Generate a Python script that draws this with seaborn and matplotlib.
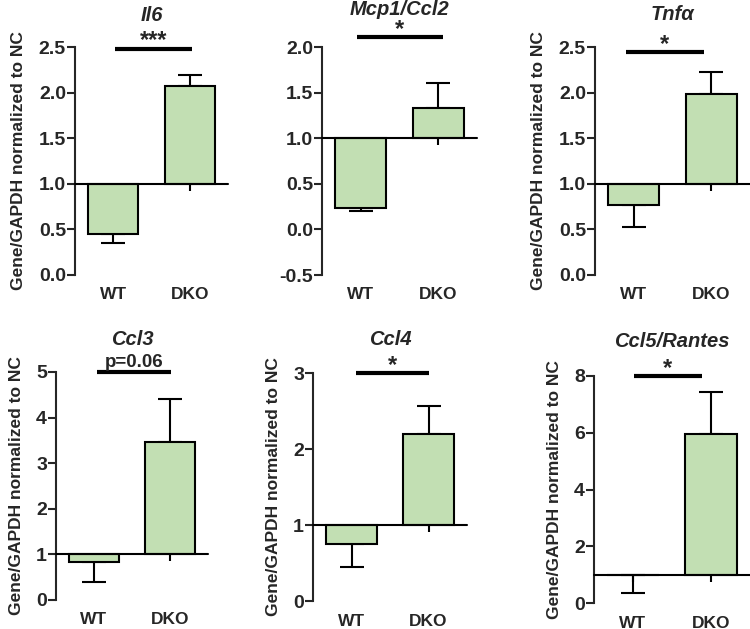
import numpy as np
import pandas as pd
import matplotlib
matplotlib.use("Agg")
import matplotlib.pyplot as plt
import seaborn as sns

# ---------------- DATA ----------------
genes = ["Il6", "Mcp1/Ccl2", "Tnfα", "Ccl3", "Ccl4", "Ccl5/Rantes"]
groups = ["WT", "DKO"]
wt_mean = [0.45, 0.24, 0.77, 0.84, 0.75, 1.0]
wt_err = [0.10, 0.04, 0.24, 0.44, 0.30, 0.65]
dko_mean = [2.07, 1.33, 1.98, 3.46, 2.20, 5.95]
dko_err = [0.12, 0.28, 0.25, 0.95, 0.36, 1.48]
sig_labels = ["***", "*", "*", "p=0.06", "*", "*"]
y_limits = [(0, 2.5), (-0.5, 2.0), (0, 2.5), (0, 5), (0, 3), (0, 8)]
y_steps = [0.5, 0.5, 0.5, 1, 1, 2]
ylabel = "Gene/GAPDH normalized to NC"
# --------------------------------------

# ---------------- LAYOUT ----------------
W, H = 750, 629
# axes boxes in pixels: x0, x1, y_top, y_bottom
boxes = [(75, 228, 47, 275), (322, 477, 47, 275), (595, 750, 47, 275),
         (56, 208, 372, 600), (313, 467, 373, 601), (594, 750, 376, 603)]
sig_span = [(0.02, 1.03), (-0.05, 1.06), (-0.1, 0.9), (0.04, 1.01), (0.06, 1.0), (0.01, 0.88)]
sig_y = [2.48, 2.11, 2.44, 5.0, 3.0, 8.0]
show_ylabel = [True, False, True, True, True, True]
title_pad = [19, 23, 19.5, 19.5, 20, 21]
BAR_COLOR = "#C2DFB3"
# ----------------------------------------

sns.set_style("ticks")
plt.rcParams["font.family"] = ["Liberation Sans", "DejaVu Sans"]
plt.rcParams["font.weight"] = "bold"

fig = plt.figure(figsize=(W / 100, H / 100), dpi=100)

for i, gene in enumerate(genes):
    x0, x1, yt, yb = boxes[i]
    ax = fig.add_axes([x0 / W, 1 - yb / H, (x1 - x0) / W, (yb - yt) / H])

    df = pd.DataFrame({"group": groups,
                       "delta": [wt_mean[i] - 1, dko_mean[i] - 1]})
    sns.barplot(data=df, x="group", y="delta", bottom=1, color=BAR_COLOR,
                saturation=1, edgecolor="black", linewidth=1.5, width=0.66,
                errorbar=None, ax=ax, zorder=2)

    # one-sided error bars, pointing away from the baseline
    ax.errorbar([0], [wt_mean[i]], yerr=[[wt_err[i]], [0]], fmt="none",
                ecolor="black", elinewidth=1.5, capsize=8.5, capthick=1.5, zorder=1)
    ax.errorbar([1], [dko_mean[i]], yerr=[[0], [dko_err[i]]], fmt="none",
                ecolor="black", elinewidth=1.5, capsize=8.5, capthick=1.5, zorder=1)

    # baseline at 1 with downward ticks
    ax.axhline(1, color="black", lw=1.5, zorder=3, clip_on=False)
    ax.plot([0, 1], [1, 1], ls="none", marker=3, ms=5, mew=1.5,
            color="black", zorder=0.5, clip_on=False)

    lo, hi = y_limits[i]
    ax.set_ylim(lo, hi)
    ax.set_xlim(-0.5, 1.5)
    ax.set_yticks(np.arange(lo, hi + y_steps[i] / 2, y_steps[i]))
    if y_steps[i] < 1:
        ax.set_yticklabels([f"{t:.1f}" for t in ax.get_yticks()])
    else:
        ax.set_yticklabels([f"{t:.0f}" for t in ax.get_yticks()])

    sns.despine(ax=ax, bottom=True)
    ax.spines["left"].set_linewidth(1.5)
    ax.tick_params(axis="y", length=5.5, width=1.5, pad=1, labelsize=14)
    ax.tick_params(axis="x", length=0, pad=9, labelsize=12.5)
    for lab in ax.get_xticklabels() + ax.get_yticklabels():
        lab.set_fontweight("bold")

    ax.set_xlabel("")
    if show_ylabel[i]:
        ax.set_ylabel(ylabel, fontsize=12.5, fontweight="bold", labelpad=9)
    else:
        ax.set_ylabel("")

    # fixed y so the title does not get pushed up by the significance marks
    ax.set_title(gene, fontsize=14.5, fontweight="bold", style="italic",
                 y=1.0, pad=title_pad[i])

    # significance bar
    s0, s1 = sig_span[i]
    ax.plot([s0, s1], [sig_y[i], sig_y[i]], color="black", lw=3,
            clip_on=False, solid_capstyle="butt")
    is_star = sig_labels[i].startswith("*")
    ax.annotate(sig_labels[i], xy=((s0 + s1) / 2, sig_y[i]),
                xytext=(0, 1.0 if is_star else 3.5),
                textcoords="offset points", ha="center", va="baseline",
                fontsize=17 if is_star else 13.5,
                fontweight="bold", annotation_clip=False)

fig.savefig("out.png", dpi=100)
